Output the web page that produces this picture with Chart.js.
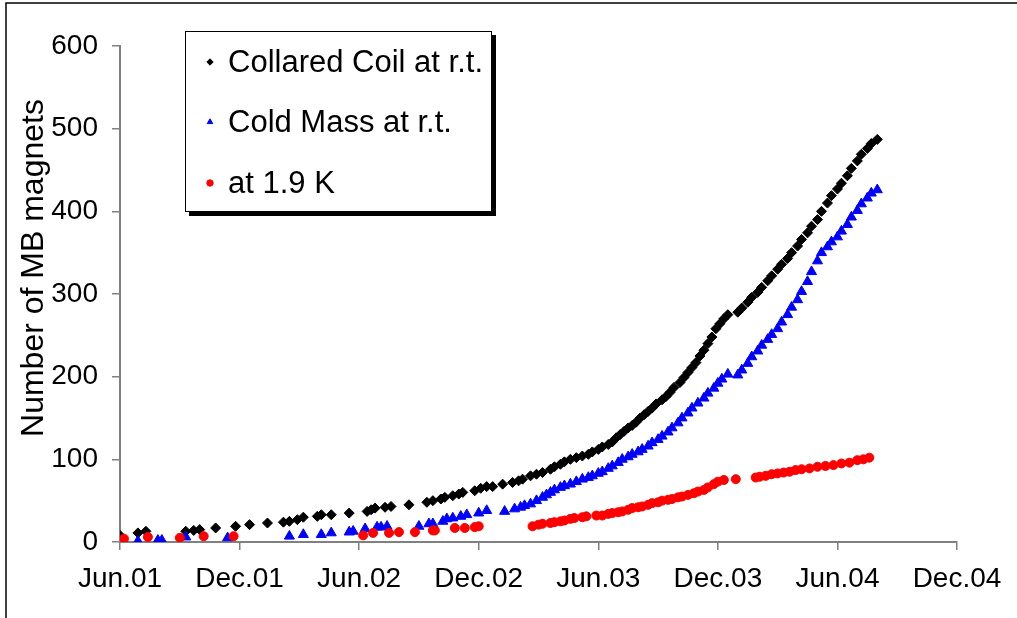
<!DOCTYPE html>
<html>
<head>
<meta charset="utf-8">
<script src="https://cdn.jsdelivr.net/npm/chart.js@4/dist/chart.umd.min.js"></script>
<style>
  body { margin: 0; background: #fff; }
  #wrap { width: 1017px; height: 618px; }
</style>
</head>
<body>
<div id="wrap"><canvas id="myChart" width="1017" height="618"></canvas></div>
<script>
// x = months since Jun.01, y = cumulative number of magnets
const tickLabels = ['Jun.01', 'Dec.01', 'Jun.02', 'Dec.02', 'Jun.03', 'Dec.03', 'Jun.04', 'Dec.04'];
const seriesNames = ['Collared Coil at r.t.', 'Cold Mass at r.t.', 'at 1.9 K'];
const yTitle = 'Number of MB magnets';

const coilMonths = [0.0,0.9,1.3,3.3,3.7,4.0,4.8,5.8,6.5,7.4, 8.2,8.5,8.9,9.2,9.9,10.1,10.6, 11.5,12.4,12.6,12.8,13.3,13.6,14.5,
  15.4,15.7,16.1,16.3,16.7,17.0,17.2, 17.8,18.1,18.4,18.7,19.2,19.7,20.0,20.2,20.6,20.9,
  21.2,21.6,21.8,22.1,22.3,22.6,22.9,23.2,23.5,23.7, 24.0,24.2,24.5,24.7,24.9,25.1,25.3,25.5,25.7,25.9,
  26.1,26.3,26.5,26.7,26.9,27.2,27.4,27.6,27.8,28.1, 28.3,28.5,28.7,28.9,29.1,29.3,29.5,29.7,29.9,30.1, 30.3,30.5,
  31.0,31.2,31.5,31.7,32.0,32.2,32.5,32.7,33.0,33.2, 33.5,33.7,34.0,34.2,34.5,34.7,35.0,35.2,35.5,35.7,
  36.0,36.2,36.5,36.7,37.0,37.2,37.5,37.7,38.0];
const coilCount = [8,11,13,13,14,15,17,19,21,23, 24,25,27,30,31,33,33, 35,37,39,41,42,43,45,
  48,50,52,54,56,58,60, 62,65,67,67,70,72,74,76,80,82,
  84,88,91,94,97,100,102,104,106,109, 112,115,118,121,126,130,134,138,141,145,
  150,154,158,162,167,172,176,181,187,193, 199,205,211,217,225,232,240,248,258,264, 270,275,
  278,283,290,296,302,308,316,322,330,336, 343,350,358,366,374,382,390,400,410,419,
  427,434,443,452,461,469,476,482,487];

const massMonths = [0.9,1.9,2.1,3.3,5.4,8.5,9.2,10.1,10.6,11.5, 11.7,12.3,12.9,13.1,13.4,15.0,15.5,15.7,16.2,16.4,
  16.7,17.1,17.4,18.0,18.4,19.3,19.8,20.1,20.3,20.6, 20.9,21.2,21.4,21.6,21.8,22.1,22.3,22.6,22.9,23.2,
  23.5,23.7,24.0,24.2,24.5,24.7,25.0,25.2,25.5,25.7, 26.0,26.2,26.5,26.7,27.0,27.2,27.5,27.7,28.0,28.2,
  28.5,28.7,29.0,29.3,29.5,29.8,30.0,30.2,30.5,
  31.0,31.2,31.5,31.7,32.0,32.2,32.5,32.7,33.0,33.2, 33.5,33.7,34.0,34.2,34.5,34.7,35.0,35.2,35.5,35.7,
  36.0,36.2,36.5,36.7,37.0,37.2,37.5,37.7,38.0];
const massCount = [1,2,2,6,5,7,9,9,11,12, 13,16,18,18,19,19,22,22,25,28,
  29,31,33,35,38,37,40,42,44,46, 50,54,57,60,63,66,68,70,73,76,
  78,80,83,85,89,92,96,100,103,106, 109,112,116,120,124,128,133,138,144,150,
  156,162,168,174,180,186,192,197,203,
  202,208,216,224,231,238,245,251,258,266, 275,284,293,303,315,327,340,350,357,363,
  369,376,384,393,401,409,416,422,426];

const coldMonths = [0.2,1.4,3.0,4.2,5.7,12.2,12.7,13.5,14.0,14.8, 15.7,15.8,16.8,17.3,17.8,18.0,20.7,21.0,21.2,21.6,
  21.8,22.1,22.3,22.6,22.8,23.2,23.4,23.9,24.2,24.5, 24.7,25.0,25.2,25.5,25.7,26.0,26.2,26.5,26.7,27.0,
  27.2,27.5,27.7,28.0,28.2,28.5,28.8,29.0,29.3,29.5, 29.8,30.0,30.3,30.9,31.9,32.1,32.4,32.7,33.0,33.3,
  33.6,33.9,34.2,34.6,35.0,35.4,35.8,36.2,36.6,37.0, 37.3,37.6];
const coldCount = [4,6,5,7,7,8,11,11,12,12, 14,14,17,17,18,19,19,21,22,23,
  24,25,26,28,29,30,31,32,32,34, 35,36,37,39,41,42,43,45,47,48,
  50,51,52,54,55,57,59,61,63,66, 70,73,75,76,78,79,80,82,83,84,
  85,87,88,89,91,92,93,95,96,99, 100,102];

function toPoints(xs, ys) {
  return xs.map((x, i) => ({ x: x, y: ys[i] }));
}

const fontName = '"Liberation Sans", Arial, sans-serif';

// 外枠・縦軸タイトル・凡例を描く
const frameAndLegend = {
  id: 'frameAndLegend',
  afterDraw(chart) {
    const ctx = chart.ctx;
    ctx.save();
    ctx.strokeStyle = '#000';
    ctx.lineWidth = 1.5;
    ctx.beginPath();
    ctx.moveTo(6, 618);
    ctx.lineTo(6, 3);
    ctx.lineTo(1017, 3);
    ctx.stroke();

    // y axis title (sits a little above the axis centre)
    ctx.save();
    ctx.translate(34, 268);
    ctx.rotate(-Math.PI / 2);
    ctx.font = '32px ' + fontName;
    ctx.fillStyle = '#000';
    ctx.textAlign = 'center';
    ctx.textBaseline = 'middle';
    ctx.fillText(yTitle, 0, 0);
    ctx.restore();

    // legend box with shadow
    ctx.fillStyle = '#000';
    ctx.fillRect(189, 35, 307, 181);
    ctx.fillStyle = '#fff';
    ctx.fillRect(185, 31, 307, 181);
    ctx.lineWidth = 1;
    ctx.strokeRect(185.5, 31.5, 306, 180);

    const rows = [62, 122, 183];
    ctx.font = '31px ' + fontName;
    ctx.textBaseline = 'middle';
    chart.data.datasets.forEach((ds, i) => {
      const y = rows[i];
      ctx.fillStyle = ds.backgroundColor;
      ctx.strokeStyle = ds.borderColor;
      Chart.helpers.drawPoint(ctx, {
        pointStyle: ds.pointStyle, radius: 3.2, rotation: 0, borderWidth: 1
      }, 210, y);
      ctx.fillStyle = '#000';
      ctx.fillText(ds.label, 228, y + 1);
    });
    ctx.restore();
  }
};

const ctx = document.getElementById('myChart');
const myChart = new Chart(ctx, {
  type: 'scatter',
  data: {
    datasets: [{
      label: seriesNames[0],
      data: toPoints(coilMonths, coilCount),
      pointStyle: 'rectRot',
      backgroundColor: '#000000',
      borderColor: '#000000',
      pointRadius: 5,
      borderWidth: 1,
      order: 3
    }, {
      label: seriesNames[1],
      data: toPoints(massMonths, massCount),
      pointStyle: 'triangle',
      backgroundColor: '#0000ff',
      borderColor: '#0000ff',
      pointRadius: 5.8,
      borderWidth: 1,
      order: 2
    }, {
      label: seriesNames[2],
      data: toPoints(coldMonths, coldCount),
      pointStyle: 'circle',
      backgroundColor: '#ff0000',
      borderColor: '#ff0000',
      pointRadius: 4.5,
      borderWidth: 1,
      order: 1
    }]
  },
  options: {
    responsive: false,
    animation: false,
    layout: { padding: { top: 46, right: 60, left: 0, bottom: 0 } },
    plugins: {
      legend: { display: false },
      tooltip: { enabled: false }
    },
    scales: {
      x: {
        type: 'linear',
        min: 0,
        max: 42,
        afterFit: (scale) => { scale.height = 76; },
        afterBuildTicks: (scale) => {
          scale.ticks = tickLabels.map((t, i) => ({ value: i * 6 }));
        },
        grid: { drawOnChartArea: false, drawTicks: true, tickLength: 8, color: '#808080', lineWidth: 1.5 },
        border: { color: '#808080', width: 2 },
        ticks: {
          color: '#000',
          padding: 12,
          maxRotation: 0,
          font: { family: fontName, size: 28 },
          callback: (value) => tickLabels[Math.round(value / 6)]
        }
      },
      y: {
        min: 0,
        max: 600,
        afterFit: (scale) => { scale.width = 120; },
        grid: { drawOnChartArea: false, drawTicks: true, tickLength: 8, color: '#808080', lineWidth: 1.5 },
        border: { color: '#808080', width: 2 },
        ticks: {
          stepSize: 100,
          color: '#000',
          padding: 14,
          font: { family: fontName, size: 28 }
        }
      }
    }
  },
  plugins: [frameAndLegend]
});
</script>
</body>
</html>
